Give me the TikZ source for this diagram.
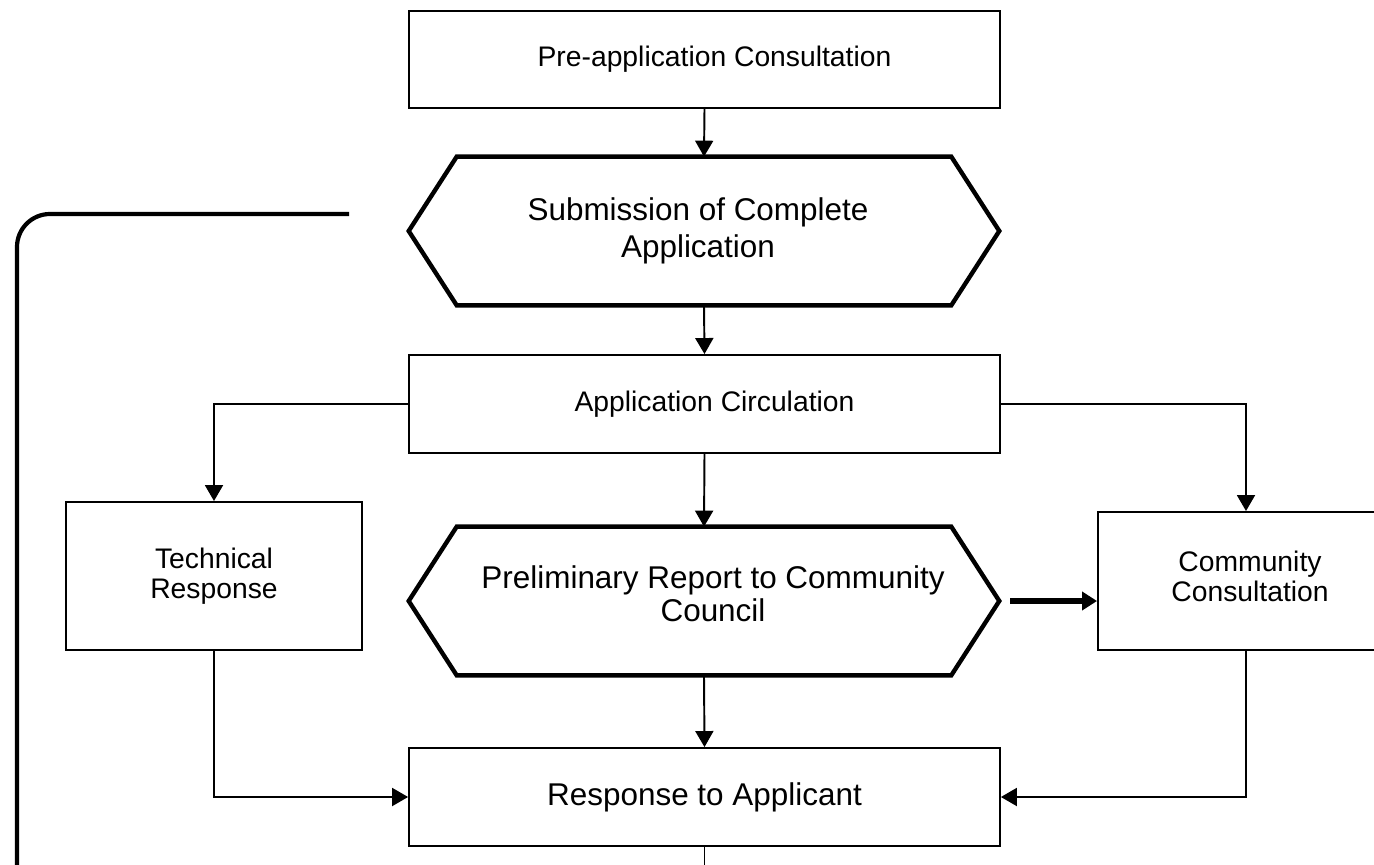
\documentclass[tikz,border=0pt]{standalone}
\usepackage{fontspec}
\setmainfont{Liberation Sans}
\usetikzlibrary{arrows.meta}
\begin{document}
\begin{tikzpicture}[x=0.02cm,y=-0.02cm,
  box/.style={draw, line width=1.1pt, rectangle, inner sep=0pt, align=center,
    font=\fontsize{16.1}{17}\selectfont},
  hexnode/.style={rectangle, inner sep=0pt, minimum width=11.8cm, minimum height=2.96cm},
  bigtext/.style={inner sep=0pt, align=center},
  smalltext/.style={inner sep=0pt, align=center, font=\fontsize{16.1}{17}\selectfont},
  hexline/.style={line width=2.5pt, line join=miter},
  arr/.style={line width=1.1pt, -{Triangle[length=0.32cm,width=0.36cm]}},
  thickarr/.style={line width=3.5pt, -{Triangle[length=0.3cm,width=0.36cm]}},
  plain/.style={line width=1.1pt},
  loopline/.style={line width=2.4pt, rounded corners=0.66cm}
]
\useasboundingbox (0,0) rectangle (1374,865);

% boxes
\node[box, minimum width=11.82cm, minimum height=1.94cm] (pre) at (704.5,59.5) {\hspace{0.4cm}Pre-application Consultation};
\node[hexnode] (sub) at (704,231) {};
\node[box, minimum width=11.82cm, minimum height=1.96cm] (circ) at (704.5,404) {\hspace{0.4cm}Application Circulation};
\node[box, minimum width=5.92cm, minimum height=2.96cm] (tech) at (214,576) {Technical\\Response};
\node[box, minimum width=6.08cm, minimum height=2.76cm] (comm) at (1250,581) {};
\node[hexnode] (prel) at (704,601) {};
\node[box, minimum width=11.82cm, minimum height=1.96cm, font=\fontsize{17.9}{20}\selectfont] (resp) at (704.5,797) {Response to Applicant};

% texts of hexagons and community box
\node[bigtext, font=\fontsize{17.9}{21}\selectfont] (subt) at (698,231) {Submission of Complete\\Application};
\node[bigtext, font=\fontsize{17.9}{18.8}\selectfont] (prelt) at (713,594) {Preliminary Report to Community\\Council};
\node[smalltext] (commt) at (1250,576) {Community\\Consultation};

% hexagon outlines
\draw[hexline] (sub.west) -- ([xshift=0.96cm]sub.north west) -- ([xshift=-0.96cm]sub.north east)
  -- (sub.east) -- ([xshift=-0.96cm]sub.south east) -- ([xshift=0.96cm]sub.south west) -- cycle;
\draw[hexline] (prel.west) -- ([xshift=0.96cm]prel.north west) -- ([xshift=-0.96cm]prel.north east)
  -- (prel.east) -- ([xshift=-0.96cm]prel.south east) -- ([xshift=0.96cm]prel.south west) -- cycle;

% connectors
\draw[arr] (pre.south) -- (sub.north);
\draw[arr] (sub.south) -- (circ.north);
\draw[arr] (circ.west) -| (tech.north);
\draw[arr] (circ.east) -| ([xshift=-0.08cm]comm.north);
\draw[arr] (circ.south) -- (prel.north);
\draw[thickarr, shorten <=0.22cm] (prel.east) -- (comm.west |- prel.east);
\draw[arr] (prel.south) -- (resp.north);
\draw[arr] (tech.south) |- (resp.west);
\draw[arr] ([xshift=-0.08cm]comm.south) |- (resp.east);

\coordinate (out) at (704.5,880);
\draw[plain] (resp.south) -- (out);

% feedback loop line
\coordinate (loopA) at (349,214);
\coordinate (loopB) at (17,880);
\draw[loopline] (loopA) -| (loopB);
\end{tikzpicture}
\end{document}
